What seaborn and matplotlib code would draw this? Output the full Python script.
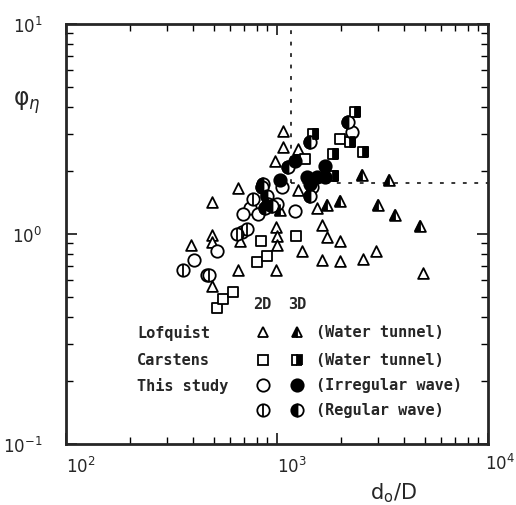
import matplotlib
matplotlib.use("Agg")
import matplotlib.pyplot as plt
import matplotlib.transforms as mtrans
from matplotlib.markers import MarkerStyle
import seaborn as sns

# Lofquist, water tunnel
lof2d_x = [1064, 1064, 979, 1258, 656, 490, 490, 490, 391, 656, 989, 490, 989, 1000,
           1000, 1309, 1258, 1542, 1629, 1726, 1989, 1629, 1989, 2565, 2946, 4920, 668]
lof2d_y = [3.10, 2.59, 2.23, 2.54, 1.65, 1.42, 0.99, 0.916, 0.886, 0.669, 0.669, 0.567, 1.08, 0.978,
           0.886, 0.824, 1.61, 1.33, 1.10, 0.964, 0.929, 0.752, 0.744, 0.756, 0.824, 0.648, 0.929]
lof3d_x = [2520, 3376, 1989, 1720, 3020, 3624, 4762, 1033]
lof3d_y = [1.91, 1.81, 1.44, 1.37, 1.37, 1.225, 1.09, 1.30]

# Carstens, water tunnel
car2d_x = [518, 553, 617, 801, 894, 840, 1230, 1989, 1358]
car2d_y = [0.444, 0.49, 0.531, 0.736, 0.786, 0.929, 0.98, 2.83, 2.28]
car3d_x = [2330, 2218, 2565, 1843, 1481, 1843]
car3d_y = [3.81, 2.74, 2.46, 2.40, 2.99, 1.88]

# This study, irregular wave
irr2d_x = [2259, 1460, 1053, 997, 1217, 745, 692, 815, 518, 406, 464]
irr2d_y = [3.05, 1.67, 1.67, 1.39, 1.29, 1.32, 1.245, 1.245, 0.824, 0.754, 0.633]
irr3d_x = [1217, 1689, 1383, 1542, 1689, 1033, 1433]
irr3d_y = [2.23, 2.11, 1.87, 1.87, 1.86, 1.81, 1.73]

# This study, regular wave
reg2d_x = [360, 478, 680, 719, 772, 644]
reg2d_y = [0.67, 0.638, 1.02, 1.056, 1.47, 1.0]
reg3d_x = [2178, 1433, 1131, 861, 894, 910, 1433, 944, 846, 877]
reg3d_y = [3.40, 2.73, 2.08, 1.73, 1.52, 1.39, 1.52, 1.36, 1.67, 1.32]

# dashed guide lines
guide_x = 1165
guide_y = 1.75

sns.set_style("ticks")
plt.rcParams["font.family"] = ["DejaVu Sans"]
plt.rcParams["mathtext.fontset"] = "dejavusans"

fig = plt.figure(figsize=(5.16, 5.06), dpi=100)
ax = fig.add_axes([0.128, 0.121, 0.818, 0.830])

LW = 1.3
SIZE = {"^": 60, "s": 62, "o": 80}


def open_pts(x, y, m):
    sns.scatterplot(x=x, y=y, marker=m, s=SIZE[m], color="white",
                    edgecolor="black", linewidth=LW, ax=ax, zorder=3)


def half_pts(x, y, m, side):
    open_pts(x, y, m)
    sns.scatterplot(x=x, y=y, marker=MarkerStyle(m, fillstyle=side), s=SIZE[m],
                    color="black", edgecolor="black", linewidth=LW, ax=ax, zorder=4)


def full_pts(x, y, m):
    sns.scatterplot(x=x, y=y, marker=m, s=SIZE[m], color="black",
                    edgecolor="black", linewidth=LW, ax=ax, zorder=4)


def vline_pts(x, y):
    open_pts(x, y, "o")
    sns.scatterplot(x=x, y=y, marker="|", s=SIZE["o"], color="black",
                    linewidth=LW, ax=ax, zorder=4)


open_pts(lof2d_x, lof2d_y, "^")
half_pts(lof3d_x, lof3d_y, "^", "left")
open_pts(car2d_x, car2d_y, "s")
half_pts(car3d_x, car3d_y, "s", "right")
open_pts(irr2d_x, irr2d_y, "o")
vline_pts(reg2d_x, reg2d_y)
half_pts(reg3d_x, reg3d_y, "o", "left")
full_pts(irr3d_x, irr3d_y, "o")

ax.set_xscale("log")
ax.set_yscale("log")
ax.set_xlim(1e2, 1e4)
ax.set_ylim(1e-1, 1e1)

dash = (0, (2.5, 5))
ax.plot([guide_x, guide_x], [guide_y, 1e1], color="black", lw=1.1, ls=dash, zorder=1)
ax.plot([guide_x, 1e4], [guide_y, guide_y], color="black", lw=1.1, ls=dash, zorder=1)

for s in ax.spines.values():
    s.set_linewidth(2.0)
ax.tick_params(which="both", direction="in", top=True, right=True, color="black")
ax.tick_params(which="major", length=8, width=1.1, labelsize=12)
ax.tick_params(which="minor", length=5, width=1.0)
ax.tick_params(axis="x", which="major", pad=9)
ax.tick_params(axis="y", which="major", pad=17)

# x tick labels sit just right of their ticks; the last one is pulled in
xt = [1e2, 1e3, 1e4]
ax.set_xticks(xt, [r"$10^{2}$", r"$10^{3}$", ""])
for lab in ax.get_xticklabels():
    lab.set_horizontalalignment("left")
shift = ax.get_xaxis_transform() + mtrans.ScaledTranslation(-3 / 100, 0, fig.dpi_scale_trans)
ax.text(xt[-1], -0.0225, r"$10^{4}$", fontsize=12, ha="left", va="top", transform=shift)

ax.set_xlabel(r"d$_\mathrm{o}$/D", fontsize=15)
ax.xaxis.set_label_coords(0.775, -0.088)
ax.set_ylabel(r"φ$_\eta$", fontsize=17, rotation=0, va="center")
ax.yaxis.set_label_coords(-0.092, 0.815)

# legend block drawn inside the axes
mono = dict(family="DejaVu Sans Mono", fontsize=11, weight="bold", transform=ax.transAxes,
            va="center")
col_name, col_2d, col_3d, col_txt = 0.168, 0.466, 0.548, 0.592
rows = [0.267, 0.200, 0.140, 0.081]
ax.text(col_2d, 0.333, "2D", ha="center", **mono)
ax.text(col_3d, 0.333, "3D", ha="center", **mono)
names = ["Lofquist", "Carstens", "This study", ""]
notes = ["(Water tunnel)", "(Water tunnel)", "(Irregular wave)", "(Regular wave)"]
keys = [("^", "^left"), ("s", "sright"), ("o", "ofull"), ("ovl", "oleft")]
msz = {"^": 7.7, "s": 7.9, "o": 8.9}
for r, nm, nt, (k2, k3) in zip(rows, names, notes, keys):
    ax.text(col_name, r, nm, ha="left", **mono)
    ax.text(col_txt, r, nt, ha="left", **mono)
    m = k2[0]
    ax.plot(col_2d, r, marker=m, ms=msz[m], mfc="white", mec="black", mew=LW,
            transform=ax.transAxes, ls="none")
    if k2 == "ovl":
        ax.plot(col_2d, r, marker="|", ms=msz[m], mec="black", mew=LW,
                transform=ax.transAxes, ls="none")
    if k3.endswith("full"):
        ax.plot(col_3d, r, marker=m, ms=msz[m], mfc="black", mec="black", mew=LW,
                transform=ax.transAxes, ls="none")
    else:
        ax.plot(col_3d, r, marker=m, ms=msz[m], fillstyle=k3[1:], mfc="black",
                mfcalt="white", mec="black", mew=LW, transform=ax.transAxes, ls="none")

fig.savefig("out.png", dpi=100)
